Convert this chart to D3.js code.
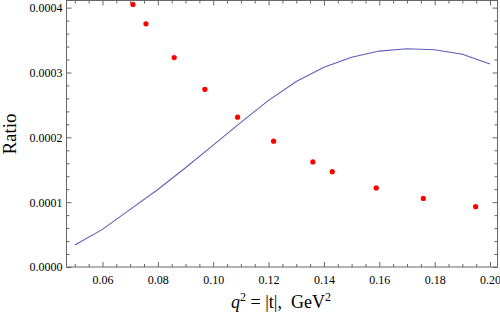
<!DOCTYPE html>
<meta charset="utf-8">
<style>
body { margin: 0; background: #fff; }
text { font-family: "Liberation Serif", "Times New Roman", serif; fill: #000; }
.tick line { stroke: #666; }
.frame { fill: none; stroke: #666; stroke-width: 1; }
.curve { fill: none; stroke: #5f5fb6; stroke-width: 1.1; }
</style>
<svg width="500" height="317"></svg>
<script src="https://d3js.org/d3.v7.min.js"></script>
<script>

// theory curve, sampled every 0.01 GeV^2
var curveQ2 = [0.05, 0.06, 0.07, 0.08, 0.09, 0.10, 0.11, 0.12, 0.13, 0.14, 0.15, 0.16, 0.17, 0.18, 0.19, 0.20];
var curveRatio = [0.0000338, 0.000058, 0.0000888, 0.0001195, 0.000153, 0.000188, 0.000223, 0.000257,
                  0.000286, 0.000308, 0.0003235, 0.000333, 0.0003365, 0.000335, 0.000328, 0.000313];

// measured points
var pointQ2 = [0.071, 0.0757, 0.0859, 0.0970, 0.1088, 0.1218, 0.1360, 0.1430, 0.1589, 0.1759, 0.1948];
var pointRatio = [0.000405, 0.000375, 0.000323, 0.000274, 0.000231, 0.000194, 0.000162, 0.000147, 0.000122, 0.0001057, 0.000093];

var xMajor = [0.06, 0.08, 0.10, 0.12, 0.14, 0.16, 0.18, 0.20];
var yMajor = [0.0000, 0.0001, 0.0002, 0.0003, 0.0004];

var svg = d3.select("svg");

var x = d3.scaleLinear().domain([0.047, 0.2027]).range([66.5, 497.5]);
var y = d3.scaleLinear().domain([0, 0.000411]).range([267, 0.5]);

var xMinor = d3.range(0.05, 0.2001, 0.005).filter(function(v){
  return !xMajor.some(function(m){ return Math.abs(m - v) < 1e-9; });
});
var yMinor = d3.range(0, 0.000411, 0.00002).filter(function(v){
  return !yMajor.some(function(m){ return Math.abs(m - v) < 1e-12; });
});

function addAxis(axis, tx, ty) {
  var g = svg.append("g").attr("transform", "translate(" + tx + "," + ty + ")").call(axis);
  g.select(".domain").remove();
  g.selectAll("text").style("font-size", "12px");
  return g;
}

// bottom
addAxis(d3.axisBottom(x).tickValues(xMajor).tickSize(-5).tickPadding(8).tickFormat(d3.format(".2f")), 0, 267);
addAxis(d3.axisBottom(x).tickValues(xMinor).tickSize(-3).tickFormat(""), 0, 267);
// top
addAxis(d3.axisTop(x).tickValues(xMajor).tickSize(-5).tickFormat(""), 0, 0.5);
addAxis(d3.axisTop(x).tickValues(xMinor).tickSize(-3).tickFormat(""), 0, 0.5);
// left
addAxis(d3.axisLeft(y).tickValues(yMajor).tickSize(-5).tickPadding(4).tickFormat(d3.format(".4f")), 66.5, 0);
addAxis(d3.axisLeft(y).tickValues(yMinor).tickSize(-3).tickFormat(""), 66.5, 0);
// right
addAxis(d3.axisRight(y).tickValues(yMajor).tickSize(-5).tickFormat(""), 497.5, 0);
addAxis(d3.axisRight(y).tickValues(yMinor).tickSize(-3).tickFormat(""), 497.5, 0);

svg.append("rect").attr("class", "frame")
  .attr("x", 66.5).attr("y", 0.5).attr("width", 431).attr("height", 266.5);

var line = d3.line()
  .x(function(d){ return x(d[0]); })
  .y(function(d){ return y(d[1]); });

svg.append("path").attr("class", "curve")
  .datum(curveQ2.map(function(q, i){ return [q, curveRatio[i]]; }))
  .attr("d", line);

svg.append("g").selectAll("circle")
  .data(pointQ2.map(function(q, i){ return [q, pointRatio[i]]; }))
  .enter().append("circle")
  .attr("cx", function(d){ return x(d[0]); })
  .attr("cy", function(d){ return y(d[1]); })
  .attr("r", 2.6)
  .style("fill", "#ff0000");

// axis labels
svg.append("text")
  .attr("transform", "translate(16,134) rotate(-90)")
  .attr("text-anchor", "middle")
  .style("font-size", "19px")
  .text("Ratio");

var xl = svg.append("text")
  .attr("x", 281).attr("y", 308)
  .attr("text-anchor", "middle")
  .style("font-size", "18px");
xl.append("tspan").style("font-style", "italic").text("q");
xl.append("tspan").attr("dy", -7).style("font-size", "12px").text("2");
xl.append("tspan").attr("dy", 7).text(" = |t|,\u00a0\u00a0GeV");
xl.append("tspan").attr("dy", -7).style("font-size", "12px").text("2");

</script>
